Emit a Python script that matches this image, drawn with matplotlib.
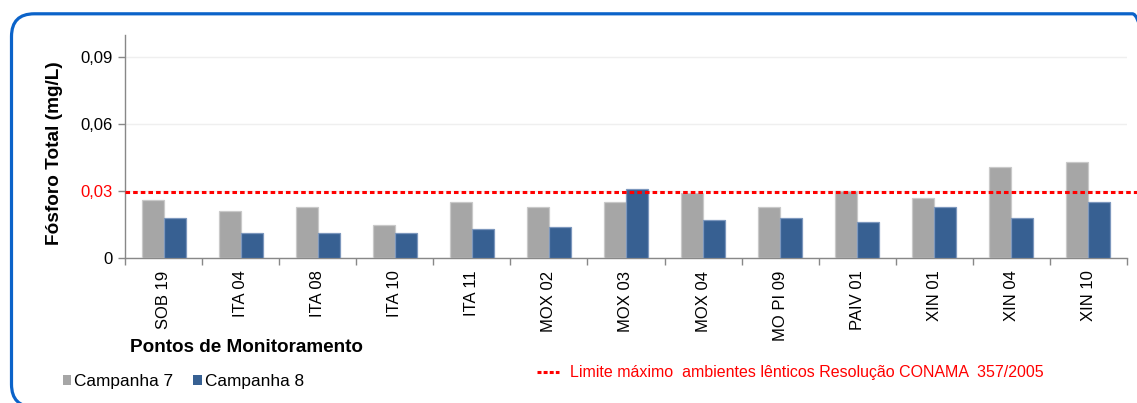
import matplotlib
matplotlib.use("Agg")
import matplotlib.pyplot as plt
import numpy as np
from matplotlib.patches import FancyBboxPatch, Patch
from matplotlib.lines import Line2D
from matplotlib.ticker import FixedLocator

plt.rcParams['font.family'] = ['Liberation Sans', 'DejaVu Sans']

# Monitoring points and total phosphorus (mg/L) per campaign
pontos = ["SOB 19", "ITA 04", "ITA 08", "ITA 10", "ITA 11", "MOX 02", "MOX 03",
          "MOX 04", "MO PI 09", "PAIV 01", "XIN 01", "XIN 04", "XIN 10"]
campanha_7 = [0.026, 0.021, 0.023, 0.015, 0.025, 0.023, 0.025,
              0.029, 0.023, 0.030, 0.027, 0.041, 0.043]
campanha_8 = [0.018, 0.011, 0.011, 0.011, 0.013, 0.014, 0.031,
              0.017, 0.018, 0.016, 0.023, 0.018, 0.025]
limite_conama = 0.0295
y_ticks = [0, 0.03, 0.06, 0.09]
y_tick_labels = ["0", "0,03", "0,06", "0,09"]

W, H = 1137, 403
fig = plt.figure(figsize=(W / 100, H / 100), dpi=100)
fig.patch.set_facecolor("white")

# rounded blue frame around the chart
frame = FancyBboxPatch((11.5 / W, 1 - 407 / H), (1155 - 11.5) / W, (407 - 13.8) / H,
                       boxstyle="round,pad=0,rounding_size=0.02",
                       transform=fig.transFigure, fill=False,
                       edgecolor="#0B63C9", linewidth=2.3, mutation_aspect=W / H,
                       clip_on=False)
fig.patches.append(frame)

ax = fig.add_axes([125 / W, 1 - 258 / H, (1127 - 125) / W, (258 - 35) / H])
ax.set_facecolor("none")

x = np.arange(len(pontos))
bw = 0.285
ax.bar(x - bw / 2, campanha_7, width=bw, color="#A6A6A6", edgecolor="#C9C9C9",
       linewidth=0.9, zorder=3)
ax.bar(x + bw / 2, campanha_8, width=bw, color="#376092", edgecolor="#7C97BD",
       linewidth=0.9, zorder=3)

ax.set_xlim(-0.5, len(pontos) - 0.5)
ax.set_ylim(0, 0.1)

# limit line across the plot
ax.plot([0, 1.012], [limite_conama, limite_conama], transform=ax.get_yaxis_transform(),
        color="#FF0000", linewidth=2.2, linestyle=(0, (1.5, 1.0)),
        dash_capstyle="butt", clip_on=False, zorder=4)

ax.yaxis.set_major_locator(FixedLocator(y_ticks))
ax.set_yticklabels(y_tick_labels)
ax.grid(axis="y", color="#EFEFEF", linewidth=1, zorder=0)
ax.tick_params(axis="y", length=5, width=1, color="#888888", pad=4, labelsize=12)
for lbl in ax.get_yticklabels():
    if lbl.get_text() == "0,03":
        lbl.set_color("#FF0000")

ax.set_xticks(x)
ax.set_xticklabels(pontos, rotation=90, fontsize=12, va="top")
ax.set_xticks(np.arange(-0.5, len(pontos)), minor=True)
ax.tick_params(axis="x", which="major", length=0, pad=9)
ax.tick_params(axis="x", which="minor", length=5, width=1, color="#888888")

for s in ["top", "right"]:
    ax.spines[s].set_visible(False)
for s in ["left", "bottom"]:
    ax.spines[s].set_color("#888888")
    ax.spines[s].set_linewidth(1)

ax.set_ylabel("Fósforo Total (mg/L)", fontsize=13.7, fontweight="bold")
ax.yaxis.set_label_coords(-0.062, 0.47)

fig.text(130.5 / W, 1 - 348 / H, "Pontos de Monitoramento", fontsize=13.6,
         fontweight="bold", ha="left", va="center")

# legends
leg1 = fig.legend(handles=[Patch(facecolor="#A6A6A6", edgecolor="none", label="Campanha 7"),
                           Patch(facecolor="#376092", edgecolor="none", label="Campanha 8")],
                  loc="center left", bbox_to_anchor=(62.5 / W, 1 - 381.5 / H), ncol=2,
                  frameon=False, fontsize=12.4, handlelength=0.5, handleheight=0.5,
                  handletextpad=0.17, columnspacing=1.15, borderaxespad=0, borderpad=0)

leg2 = fig.legend(handles=[Line2D([], [], color="#FF0000", linewidth=2.2,
                                  linestyle=(0, (1.3, 0.7)), dash_capstyle="butt",
                                  label="Limite máximo  ambientes lênticos Resolução CONAMA  357/2005")],
                  loc="center left", bbox_to_anchor=(537 / W, 1 - 373 / H),
                  frameon=False, fontsize=11.5, handlelength=1.38, handletextpad=0.69,
                  labelcolor="#FF0000", borderaxespad=0, borderpad=0)

fig.savefig("out.png", dpi=100, facecolor="white")
